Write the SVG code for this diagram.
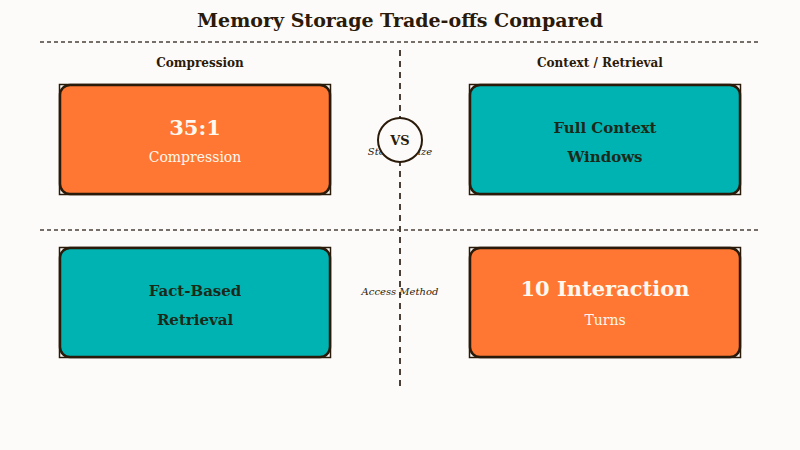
<svg xmlns="http://www.w3.org/2000/svg" width="800" height="450" viewBox="0 0 800 450">
<style>
.bg{fill:#fdfbf9}
.div{stroke:#4a4038;stroke-width:1.5;stroke-dasharray:4,3;fill:none}
.vdiv{stroke:#4a4038;stroke-width:2;stroke-dasharray:6,5;fill:none}
.title{font-family:"DejaVu Serif","Liberation Serif",serif;font-weight:bold;font-size:19px;fill:#2a1a0a;text-anchor:middle}
.hdr{font-family:"DejaVu Serif","Liberation Serif",serif;font-weight:bold;font-size:12px;fill:#2a1a0a;text-anchor:middle}
.frame{fill:none;stroke:#2a1a0a;stroke-width:1.5}
.box{stroke:#2a1a0a;stroke-width:2.5}
.orange{fill:#ff7733}
.teal{fill:#00b3b3}
.big{font-family:"DejaVu Serif","Liberation Serif",serif;font-weight:bold;font-size:21px;fill:#fff8ee;text-anchor:middle}
.sub{font-family:"DejaVu Serif","Liberation Serif",serif;font-size:14px;fill:#fff8ee;text-anchor:middle}
.dark{font-family:"DejaVu Serif","Liberation Serif",serif;font-weight:bold;font-size:15px;fill:#1a2a1a;text-anchor:middle}
.ital{font-family:"DejaVu Serif","Liberation Serif",serif;font-style:italic;font-size:10px;fill:#2a1a0a;text-anchor:middle}
</style>
<rect class="bg" width="800" height="450"/>
<text class="title" x="400" y="27">Memory Storage Trade-offs Compared</text>
<g id="connectors">
<line class="div" x1="40" y1="42" x2="760" y2="42"/>
<line class="div" x1="40" y1="230" x2="760" y2="230"/>
<line class="vdiv" x1="400" y1="50" x2="400" y2="386"/>
</g>
<text class="hdr" x="200" y="67">Compression</text>
<text class="hdr" x="600" y="67">Context / Retrieval</text>
<g id="axis-labels">
<text class="ital" x="400" y="155">Storage Size</text>
<text class="ital" x="400" y="295">Access Method</text>
</g>
<g id="vs">
<circle cx="400" cy="140" r="22" fill="#fdfbf9" stroke="#2a1a0a" stroke-width="2"/>
<text x="400" y="145" font-family="DejaVu Serif, Liberation Serif, serif" font-weight="bold" font-size="13" fill="#2a1a0a" text-anchor="middle">VS</text>
</g>
<g id="compression">
<rect class="frame" x="59.5" y="84.5" width="271" height="110"/>
<rect class="box orange" x="60" y="85" width="270" height="109" rx="10"/>
<text class="big" x="195" y="135">35:1</text>
<text class="sub" x="195" y="162">Compression</text>
</g>
<g id="full-context">
<rect class="frame" x="469.5" y="84.5" width="271" height="110"/>
<rect class="box teal" x="470" y="85" width="270" height="109" rx="10"/>
<text class="dark" x="605" y="133">Full Context</text>
<text class="dark" x="605" y="162">Windows</text>
</g>
<g id="fact-based">
<rect class="frame" x="59.5" y="247.5" width="271" height="110"/>
<rect class="box teal" x="60" y="248" width="270" height="109" rx="10"/>
<text class="dark" x="195" y="296">Fact-Based</text>
<text class="dark" x="195" y="325">Retrieval</text>
</g>
<g id="interaction">
<rect class="frame" x="469.5" y="247.5" width="271" height="110"/>
<rect class="box orange" x="470" y="248" width="270" height="109" rx="10"/>
<text class="big" x="605" y="296">10 Interaction</text>
<text class="sub" x="605" y="325">Turns</text>
</g>
</svg>
